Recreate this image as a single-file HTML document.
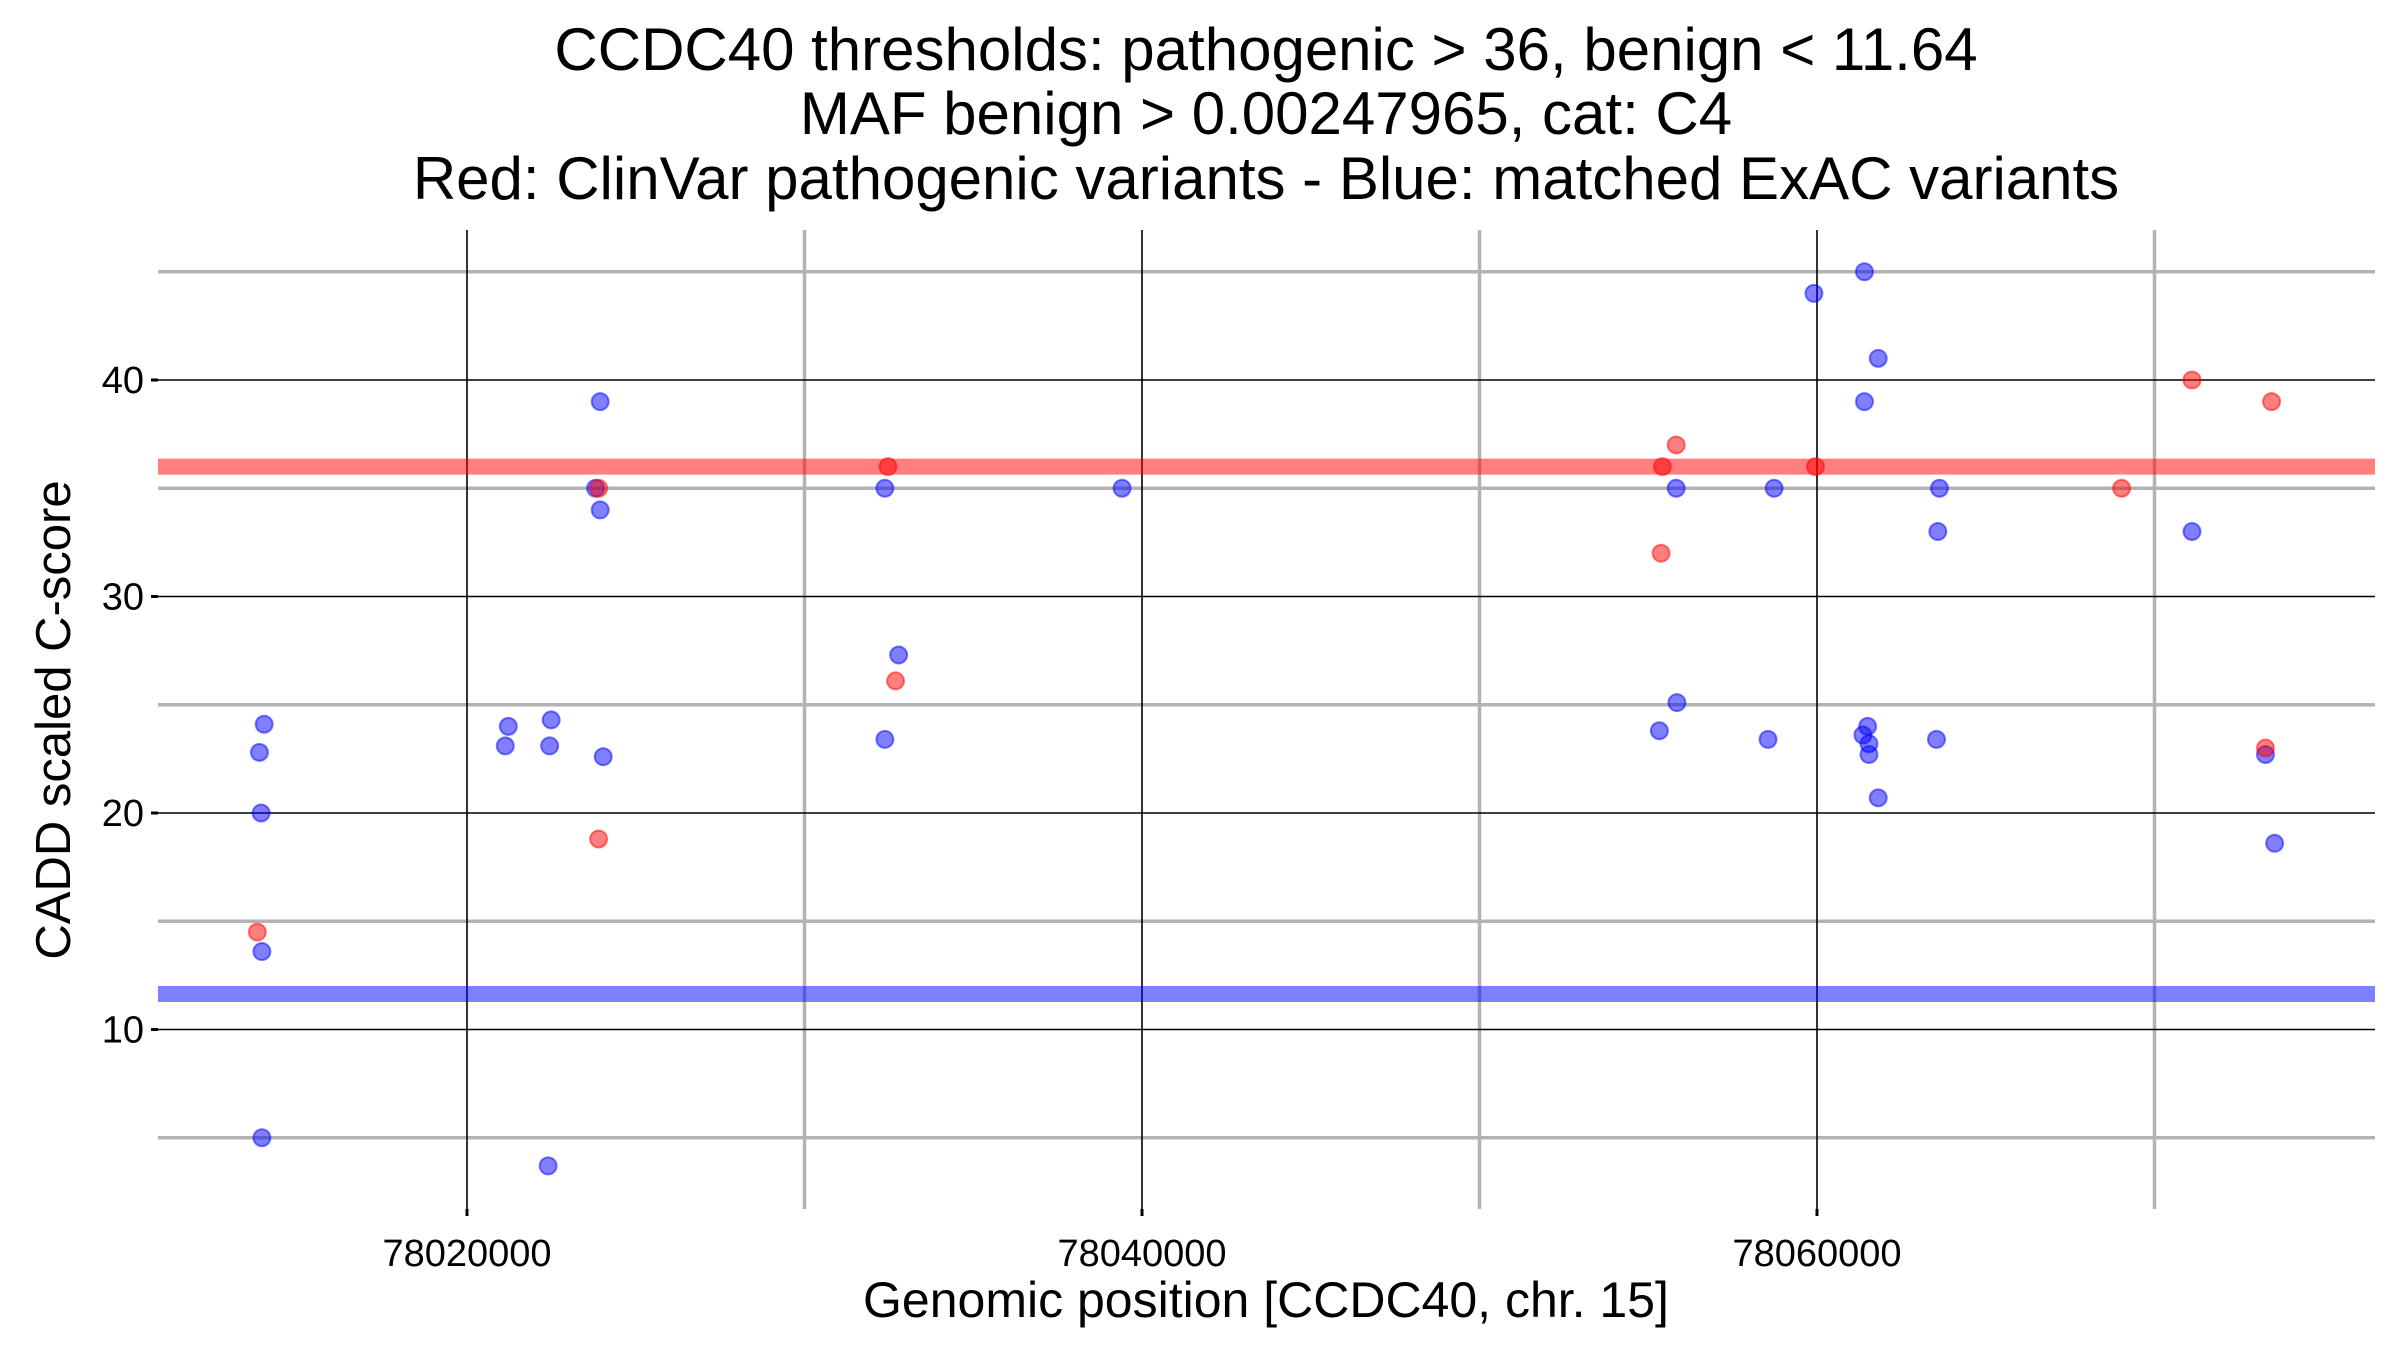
<!DOCTYPE html>
<html><head><meta charset="utf-8"><style>
html,body{margin:0;padding:0;background:#fff}
svg{display:block;font-family:"Liberation Sans",Arial,sans-serif}
</style></head><body>
<svg id="chart" width="2400" height="1350" viewBox="0 0 2400 1350" xmlns="http://www.w3.org/2000/svg">
<g id="title" font-size="60" text-anchor="middle" fill="#000">
<text x="1266" y="70">CCDC40 thresholds: pathogenic &gt; 36, benign &lt; 11.64</text>
<text x="1266" y="134">MAF benign &gt; 0.00247965, cat: C4</text>
<text x="1266" y="199">Red: ClinVar pathogenic variants - Blue: matched ExAC variants</text>
</g>
<g id="grid"></g>
<g id="thresholds"></g>
<g id="points"></g>
<g id="axes"></g>
<text x="1266" y="1317" font-size="50" text-anchor="middle">Genomic position [CCDC40, chr. 15]</text>
<text transform="translate(70,720) rotate(-90)" font-size="49" text-anchor="middle">CADD scaled C-score</text>
</svg>
<script>
const xMajorTicks = [78020000, 78040000, 78060000];
const xMinorTicks = [78030000, 78050000, 78070000];
const yMajorTicks = [10, 20, 30, 40];
const yMinorTicks = [5, 15, 25, 35, 45];
const thresholdPathogenic = 36;
const thresholdBenign = 11.64;
const blueX = [78013923,78013923,78013900,78013850,78013990,78021134,78021224,78022449,78022494,78022404,78023810,78023946,78023946,78024036,78032381,78032381,78032789,78039410,78055329,78055828,78055850,78058730,78058549,78059909,78061406,78061406,78061814,78061360,78061500,78061540,78061540,78061814,78063628,78063580,78063540,78071111,78073288,78073560];
const blueY = [5.0,13.6,20,22.8,24.1,23.1,24.0,23.1,24.3,3.7,35,39,34,22.6,35,23.4,27.3,35,23.8,35,25.1,35,23.4,44,45,39,41,23.6,24.0,23.2,22.7,20.7,35,33,23.4,33,22.7,18.6];
const redX = [78013787,78023900,78023900,78032472,78032698,78055420,78055380,78055828,78059955,78069025,78071111,78073469,78073288];
const redY = [14.5,35,18.8,36,26.1,36,32,37,36,35,40,39,23.0];

const NS='http://www.w3.org/2000/svg';
const L=158,R=2375,T=230,B=1209;
function xs(v){return 467+(v-78020000)/20000*675;}
function ys(v){return 380+(40-v)/10*216.5;}
function mk(tag,attrs,parent){const e=document.createElementNS(NS,tag);for(const k in attrs)e.setAttribute(k,attrs[k]);parent.appendChild(e);return e;}
const grid=document.getElementById('grid'),th=document.getElementById('thresholds'),pts=document.getElementById('points'),ax=document.getElementById('axes');
yMinorTicks.forEach(v=>{const e=mk('line',{x1:L,x2:R,y1:ys(v),y2:ys(v),stroke:'#b3b3b3','stroke-width':3.5},grid);

});
xMinorTicks.forEach(v=>{const e=mk('line',{x1:xs(v),x2:xs(v),y1:T,y2:B,stroke:'#b3b3b3','stroke-width':3.5},grid);

});
yMajorTicks.forEach(v=>{const e=mk('line',{x1:L,x2:R,y1:ys(v),y2:ys(v),stroke:'#000','stroke-width':1.6},grid);


const t=mk('line',{x1:L-7,x2:L,y1:ys(v),y2:ys(v),stroke:'#000','stroke-width':3},ax);


const l=mk('text',{x:L-14,y:ys(v)+13,'font-size':38,'text-anchor':'end'},ax);l.textContent=v;

});
xMajorTicks.forEach(v=>{const e=mk('line',{x1:xs(v),x2:xs(v),y1:T,y2:B,stroke:'#000','stroke-width':1.6},grid);


const t=mk('line',{x1:xs(v),x2:xs(v),y1:B,y2:B+7,stroke:'#000','stroke-width':3},ax);


const l=mk('text',{x:xs(v),y:B+57,'font-size':38,'text-anchor':'middle'},ax);l.textContent=v;

});
const rl=mk('line',{x1:L,x2:R,y1:ys(thresholdPathogenic),y2:ys(thresholdPathogenic),stroke:'#ff0000','stroke-opacity':0.5,'stroke-width':16},th);


const bl=mk('line',{x1:L,x2:R,y1:ys(thresholdBenign),y2:ys(thresholdBenign),stroke:'#0000ff','stroke-opacity':0.5,'stroke-width':16},th);


function dot(x,y,c,name){const e=mk('circle',{cx:xs(x),cy:ys(y),r:8.5,fill:c,'fill-opacity':0.5,stroke:c,'stroke-opacity':0.5,'stroke-width':2},pts);

}
blueX.forEach((x,i)=>dot(x,blueY[i],'#0000ff','exac-variant-point'));
redX.forEach((x,i)=>dot(x,redY[i],'#ff0000','clinvar-pathogenic-point'));
</script>
</body></html>
